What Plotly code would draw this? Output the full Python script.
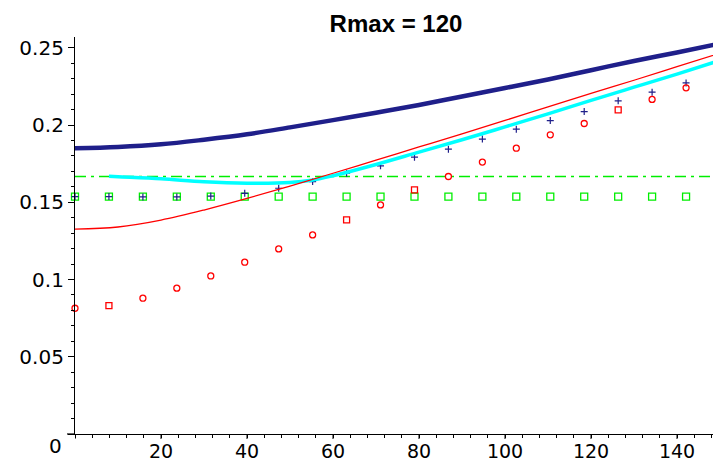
import plotly.graph_objects as go

# ---------------- data ----------------
title_text = "Rmax = 120"

# smooth curves sampled every 10 units
curve_x = [0, 10, 20, 30, 40, 50, 60, 70, 80, 90, 100, 110, 120, 130, 140, 150]
navy_curve = [0.1850, 0.1858, 0.1875, 0.1905, 0.1940, 0.1985, 0.2032, 0.2080,
              0.2130, 0.2185, 0.2240, 0.2295, 0.2355, 0.2415, 0.2470, 0.2527]
red_curve = [0.1326, 0.1340, 0.1385, 0.1450, 0.1525, 0.1605, 0.1688, 0.1773,
             0.1858, 0.1943, 0.2030, 0.2118, 0.2205, 0.2290, 0.2378, 0.2465]

cyan_x = [7.9, 10, 20, 30, 40, 50, 55, 60, 70, 80, 90, 100, 110, 120, 130, 140, 150]
cyan_curve = [0.1668, 0.1665, 0.1652, 0.1633, 0.1624, 0.1628, 0.1642, 0.1672, 0.1745,
              0.1825, 0.1905, 0.1988, 0.2072, 0.2160, 0.2245, 0.2330, 0.2418]

ref_level_x = [0, 150]
ref_level_y = [0.1667, 0.1667]

# sampled points at x = 150*i/19
pts_x = [0.0, 7.89, 15.79, 23.68, 31.58, 39.47, 47.37, 55.26, 63.16, 71.05,
         78.95, 86.84, 94.74, 102.63, 110.53, 118.42, 126.32, 134.21, 142.11, 150.0]
green_pts = [0.1537] * 20
navy_pts = [0.1537, 0.1537, 0.1535, 0.1535, 0.1540, 0.1558, 0.1591, 0.1634, 0.1688, 0.1736,
            0.1792, 0.1844, 0.1909, 0.1973, 0.2029, 0.2087, 0.2157, 0.2213, 0.2273, 0.2334]
red_pts = [0.0814, 0.0831, 0.0879, 0.0944, 0.1023, 0.1112, 0.1198, 0.1289, 0.1386, 0.1483,
           0.1580, 0.1667, 0.1760, 0.1850, 0.1937, 0.2010, 0.2098, 0.2166, 0.2241, 0.2312]

x_tick_vals = [0, 20, 40, 60, 80, 100, 120, 140]
x_tick_text = ["", "20", "40", "60", "80", "100", "120", "140"]
y_tick_vals = [0, 0.05, 0.1, 0.15, 0.2, 0.25]
y_tick_text = ["", "0.05", "0.1", "0.15", "0.2", "0.25"]
origin_label = "0"

# ---------------- styles ----------------
NAVY = "#1f1f8a"
RED = "#ff0000"
CYAN = "#00ffff"
GREEN = "#00ee00"
red_symbols = ["circle-open"] * 20
for k in (1, 8, 10, 16):
    red_symbols[k] = "square-open"

fig = go.Figure()

fig.add_trace(go.Scatter(x=ref_level_x, y=ref_level_y, mode="lines",
                         line=dict(color=GREEN, width=1.4, dash="11px,5px,3px,5px"),
                         showlegend=False))
fig.add_trace(go.Scatter(x=pts_x, y=green_pts, mode="markers",
                         marker=dict(symbol="square-open", size=7, color=GREEN,
                                     line=dict(width=1.3, color=GREEN)),
                         showlegend=False, cliponaxis=False))
fig.add_trace(go.Scatter(x=pts_x, y=navy_pts, mode="markers",
                         marker=dict(symbol="cross-thin", size=5, color=NAVY,
                                     line=dict(width=1.2, color=NAVY)),
                         showlegend=False, cliponaxis=False))
fig.add_trace(go.Scatter(x=pts_x, y=red_pts, mode="markers",
                         marker=dict(symbol=red_symbols, size=6, color=RED,
                                     line=dict(width=1.3, color=RED)),
                         showlegend=False, cliponaxis=False))
fig.add_trace(go.Scatter(x=cyan_x, y=cyan_curve, mode="lines",
                         line=dict(color=CYAN, width=3.5, shape="spline"),
                         showlegend=False))
fig.add_trace(go.Scatter(x=curve_x, y=red_curve, mode="lines",
                         line=dict(color=RED, width=1.3, shape="spline"),
                         showlegend=False))
fig.add_trace(go.Scatter(x=curve_x, y=navy_curve, mode="lines",
                         line=dict(color=NAVY, width=4.5, shape="spline"),
                         showlegend=False))

axis_font = dict(family="DejaVu Sans, Liberation Sans, sans-serif", size=20, color="black")
x_axis_font = dict(family="DejaVu Sans, Liberation Sans, sans-serif", size=19, color="black")

FIG_W, FIG_H = 713, 454  # the page body adds an 8px offset
PLOT_H = FIG_H - 29 - 28

# major x tick marks drawn as short shapes so the labels can sit close to the axis
shapes = [dict(type="line", xref="paper", yref="paper", x0=-8 / 645, x1=0, y0=0, y1=0,
               line=dict(color="black", width=1.2))]
for v in x_tick_vals:
    shapes.append(dict(type="line", xref="x", yref="paper", x0=v, x1=v,
                       y0=0, y1=-5 / PLOT_H, line=dict(color="black", width=1)))

fig.update_layout(
    width=FIG_W, height=FIG_H,
    margin=dict(l=67, r=1, t=29, b=28),
    paper_bgcolor="white", plot_bgcolor="white",
    title=dict(text="<b>" + title_text + "</b>", x=388 / FIG_W, xanchor="center",
               y=(FIG_H - 16) / FIG_H, yanchor="middle",
               font=dict(family="Liberation Sans, Arial, sans-serif", size=24, color="black")),
    xaxis=dict(range=[0, 150], tickmode="array", tickvals=x_tick_vals, ticktext=x_tick_text,
               ticks="", showline=True, linecolor="black", linewidth=1.2, automargin=False,
               showgrid=False, zeroline=False, tickfont=x_axis_font,
               minor=dict(tickmode="linear", tick0=0, dtick=4, ticks="outside",
                          ticklen=3, tickcolor="black", showgrid=False)),
    yaxis=dict(range=[0, 0.257], tickmode="array", tickvals=y_tick_vals, ticktext=y_tick_text,
               ticks="outside", ticklen=6, tickwidth=1, tickcolor="black",
               showline=True, linecolor="black", linewidth=1.2, automargin=False,
               showgrid=False, zeroline=False, tickfont=axis_font,
               minor=dict(tickmode="linear", tick0=0, dtick=0.01, ticks="outside",
                          ticklen=3, tickcolor="black", showgrid=False)),
    annotations=[dict(text=origin_label, x=0, y=0, xref="paper", yref="paper",
                      xanchor="center", yanchor="middle", xshift=-20, yshift=-12,
                      showarrow=False, font=axis_font)],
    shapes=shapes,
)

fig.write_html("out.html")
